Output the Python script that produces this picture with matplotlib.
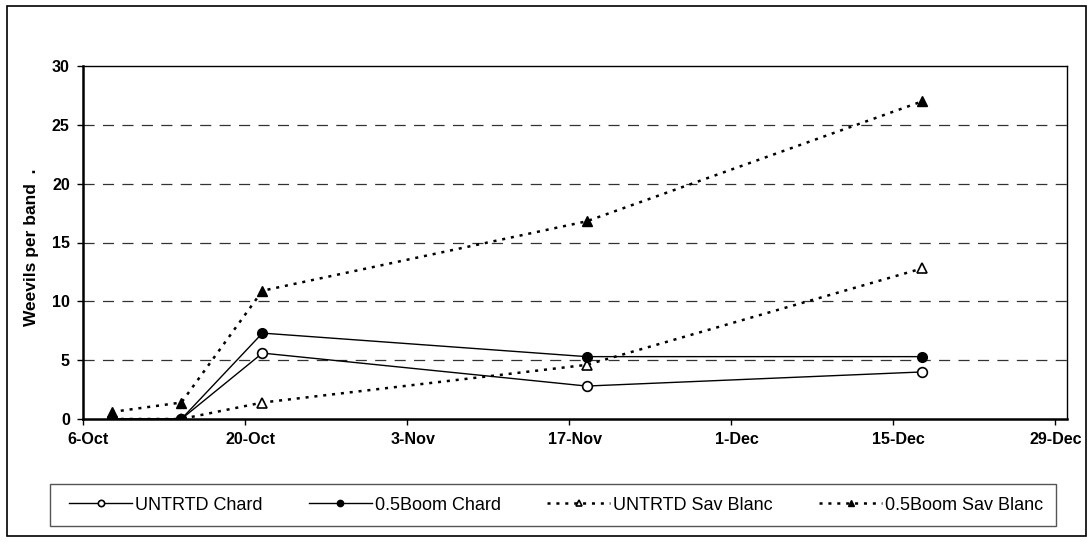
import matplotlib
matplotlib.use("Agg")
import matplotlib.pyplot as plt
import matplotlib.dates as mdates
import matplotlib.transforms as mtransforms
from matplotlib.patches import Rectangle
import datetime as dt

plt.rcParams['font.family'] = ['Liberation Sans', 'DejaVu Sans']
plt.rcParams['lines.scale_dashes'] = False

# Sampling dates and weevil counts per band
sample_dates = ["2007-10-08", "2007-10-14", "2007-10-21", "2007-11-18", "2007-12-17"]
untrtd_chard = [0.0, 0.0, 5.6, 2.8, 4.0]
boom_chard = [0.0, 0.0, 7.3, 5.3, 5.3]
untrtd_savblanc = [0.0, 0.0, 1.4, 4.6, 12.8]
boom_savblanc = [0.6, 1.4, 10.9, 16.8, 27.0]

series_labels = ["UNTRTD Chard", "0.5Boom Chard", "UNTRTD Sav Blanc", "0.5Boom Sav Blanc"]
tick_dates = ["2007-10-06", "2007-10-20", "2007-11-03", "2007-11-17",
              "2007-12-01", "2007-12-15", "2007-12-29"]
y_ticks = [0, 5, 10, 15, 20, 25, 30]

W, H = 1090, 542
fig = plt.figure(figsize=(W / 100, H / 100), dpi=100)
fig.patch.set_facecolor("white")


def fig_box(x0, y0, x1, y1):
    """Figure-fraction rectangle from pixel edges (y measured from the top)."""
    return (x0 / W, 1 - y1 / H, (x1 - x0) / W, (y1 - y0) / H)


# outer chart-area border
fig.add_artist(Rectangle(fig_box(7, 6, 1086, 536)[:2], *fig_box(7, 6, 1086, 536)[2:],
                         transform=fig.transFigure, fill=False,
                         edgecolor="black", lw=1.2))

ax = fig.add_axes(fig_box(83, 66, 1067, 419))

# each point sits in the middle of its day
x = [dt.datetime.fromisoformat(d) + dt.timedelta(hours=12) for d in sample_dates]

dot = (0, (2.2, 4.2))
ax.plot(x, untrtd_chard, color="black", lw=1.0, marker="o", ms=7,
        mfc="white", mec="black", mew=1.2, label=series_labels[0], zorder=4)
ax.plot(x, boom_chard, color="black", lw=1.0, marker="o", ms=7,
        mfc="black", mec="black", label=series_labels[1], zorder=5)
ax.plot(x, untrtd_savblanc, color="black", lw=1.8, ls=dot, marker="^", ms=7.5,
        mfc="white", mec="black", mew=1.2, label=series_labels[2], zorder=4)
ax.plot(x, boom_savblanc, color="black", lw=1.8, ls=dot, marker="^", ms=7.5,
        mfc="black", mec="black", label=series_labels[3], zorder=5)

ax.set_xlim(dt.datetime(2007, 10, 6), dt.datetime(2007, 12, 30))
ax.set_ylim(0, 30)
ax.set_xticks([dt.datetime.fromisoformat(d) for d in tick_dates])
ax.xaxis.set_major_formatter(matplotlib.ticker.FuncFormatter(
    lambda v, p: f"{mdates.num2date(v).day}-{mdates.num2date(v).strftime('%b')}"))
ax.set_yticks(y_ticks)

for yv in y_ticks[1:-1]:
    ax.axhline(yv, color="#333333", lw=0.9, ls=(0, (8, 6)), zorder=1)

for side in ("left", "bottom"):
    ax.spines[side].set_linewidth(1.8)
for side in ("top", "right"):
    ax.spines[side].set_linewidth(1.0)

ax.tick_params(axis="both", direction="out", length=4.5, width=1.0,
               labelsize=11.6, pad=5)
for lbl in ax.get_xticklabels() + ax.get_yticklabels():
    lbl.set_fontweight("bold")

# date labels centred on the middle of their day; the last one is kept inside the frame
half_day = mtransforms.ScaledTranslation(0.055, 0, fig.dpi_scale_trans)
for lbl in ax.get_xticklabels()[:-1]:
    lbl.set_transform(lbl.get_transform() + half_day)

fig.text(32 / W, 1 - 247 / H, "Weevils per band  .", rotation=90,
         ha="center", va="center", fontsize=12.5, fontweight="bold")

# legend frame and entries
lx0, ly0, lx1, ly1 = 50, 484, 1056, 526
fig.add_artist(Rectangle(fig_box(lx0, ly0, lx1, ly1)[:2], *fig_box(lx0, ly0, lx1, ly1)[2:],
                         transform=fig.transFigure, fill=False,
                         edgecolor="#555555", lw=1.0))
leg = fig.legend(loc="center",
                 bbox_to_anchor=fig_box(69, ly0, 1043, ly1),
                 ncol=4, mode="expand", frameon=False,
                 fontsize=13, handlelength=3.5,
                 handletextpad=0.15, borderaxespad=0, borderpad=0,
                 markerscale=0.65)

fig.savefig("out.png", dpi=100, facecolor="white")
